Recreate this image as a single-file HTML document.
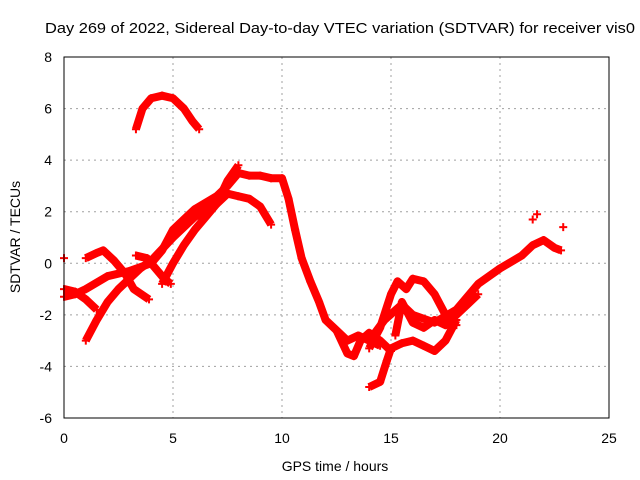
<!DOCTYPE html>
<html><head><meta charset="utf-8"><style>
body{margin:0;background:#fff}
svg{display:block;font-family:"Liberation Sans",sans-serif}
</style></head><body>
<svg id="chart" width="640" height="480" viewBox="0 0 640 480">
<rect width="640" height="480" fill="#fff"/>
<g id="grid"></g>
<g id="series"></g>
<rect x="64" y="57" width="545" height="361" fill="none" stroke="#000" stroke-width="1"/>
<g id="ticks" font-size="14" fill="#000"></g>
<text x="45" y="33" font-size="15" textLength="590" lengthAdjust="spacingAndGlyphs">Day 269 of 2022, Sidereal Day-to-day VTEC variation (SDTVAR) for receiver vis0</text>
<text x="335" y="471" font-size="14" text-anchor="middle">GPS time / hours</text>
<text x="20" y="237" font-size="14" text-anchor="middle" transform="rotate(-90 20 237)">SDTVAR / TECUs</text>
</svg>
<script>
const xTicks=[0,5,10,15,20,25];
const yTicks=[-6,-4,-2,0,2,4,6,8];
const trackArc=[[3.3,5.2],[3.6,6.0],[4.0,6.4],[4.5,6.5],[5.0,6.4],[5.5,6.0],[5.9,5.5],[6.2,5.2]];
const trackMain=[[0,-1.3],[0.5,-1.2],[1,-1.0],[2,-0.5],[3,-0.3],[4,0.0],[4.5,0.5],[5,1.3],[5.5,1.7],[6,2.1],[7,2.6],[7.5,3.0],[8,3.5],[8.5,3.4],[9,3.4],[9.5,3.3],[10,3.3],[10.3,2.5],[10.6,1.3],[10.9,0.2],[11.3,-0.7],[11.7,-1.5],[12,-2.2],[12.5,-2.6],[13,-3.0],[13.5,-2.8],[14,-3.0],[14.5,-3.2]];
const trackRise2=[[1,-3.0],[1.5,-2.2],[2,-1.5],[2.5,-1.0],[3,-0.6],[3.5,-0.2],[4,0.1],[5,1.0],[6,1.8],[7,2.3],[7.5,3.2],[8,3.8]];
const trackRise3=[[4.5,-0.8],[5,0],[5.5,0.7],[6,1.3],[6.5,1.8],[7,2.3],[7.5,2.7],[8,2.6],[8.5,2.5],[9,2.2],[9.5,1.5]];
const trackDrop=[[0,-1.0],[0.5,-1.1],[1,-1.4],[1.5,-1.8]];
const trackHump=[[1,0.2],[1.5,0.4],[1.8,0.5],[2.3,0.1],[2.8,-0.4],[3.2,-1.0],[3.9,-1.4]];
const trackMid=[[3.3,0.3],[3.8,0.2],[4.3,-0.3],[4.6,-0.6],[4.9,-0.8]];
const trackDip=[[12.5,-2.6],[13,-3.5],[13.3,-3.6],[13.6,-3.0],[14,-2.7],[14.5,-3.0],[15,-3.4]];
const trackLow=[[14,-4.8],[14.5,-4.6],[14.8,-3.8],[15,-3.3],[15.5,-3.1],[16,-3.0],[16.5,-3.2],[17,-3.4],[17.5,-3.0],[18,-2.2]];
const trackPeak=[[14,-3.3],[14.5,-2.5],[15,-1.2],[15.3,-0.7],[15.7,-1.0],[16,-0.6],[16.5,-0.7],[17,-1.2],[17.5,-2.0],[18,-2.4]];
const trackRight=[[14,-3.0],[14.7,-2.2],[15.5,-1.6],[16,-2.0],[17,-2.3],[18,-1.8],[19,-0.8],[20,-0.2],[21,0.3],[21.5,0.7],[22,0.9],[22.5,0.6],[22.8,0.5]];
const trackLate=[[15.2,-2.8],[15.5,-1.5],[16,-2.3],[16.5,-2.5],[17,-2.2],[17.5,-2.4],[18,-2.0],[18.5,-1.6],[19,-1.2]];
const trackDots=[[0,0.2],[21.5,1.7],[21.7,1.9],[22.9,1.4]];
const tracks=[trackArc,trackMain,trackRise2,trackRise3,trackDrop,trackHump,trackMid,trackDip,trackLow,trackPeak,trackRight,trackLate];
const NS='http://www.w3.org/2000/svg';
const X=t=>64+t*21.8, Y=v=>418-(v+6)*361/14;
const grid=document.getElementById('grid'),ticks=document.getElementById('ticks'),ser=document.getElementById('series');
xTicks.forEach(t=>{
 if(t>0&&t<25){const l=document.createElementNS(NS,'line');
 
 
 l.setAttribute('x1',X(t));l.setAttribute('x2',X(t));l.setAttribute('y1',57);l.setAttribute('y2',418);
 l.setAttribute('stroke','#a0a0a0');l.setAttribute('stroke-dasharray','2,4');grid.appendChild(l);}
 const s=document.createElementNS(NS,'text');
 
 
 s.setAttribute('x',X(t));s.setAttribute('y',443);s.setAttribute('text-anchor','middle');s.textContent=t;ticks.appendChild(s);
});
yTicks.forEach(v=>{
 if(v>-6&&v<8){const l=document.createElementNS(NS,'line');
 
 
 l.setAttribute('x1',64);l.setAttribute('x2',609);l.setAttribute('y1',Y(v));l.setAttribute('y2',Y(v));
 l.setAttribute('stroke','#a0a0a0');l.setAttribute('stroke-dasharray','2,4');grid.appendChild(l);}
 const s=document.createElementNS(NS,'text');
 
 
 s.setAttribute('x',52);s.setAttribute('y',Y(v)+5);s.setAttribute('text-anchor','end');s.textContent=v;ticks.appendChild(s);
});
function plus(t,v){
 const p=document.createElementNS(NS,'path');
 
 
 const x=X(t),y=Y(v);
 p.setAttribute('d',`M${x-4},${y}H${x+4}M${x},${y-4}V${y+4}`);
 p.setAttribute('stroke','#f00');p.setAttribute('stroke-width','2');ser.appendChild(p);
}
tracks.forEach(tr=>{
 const pl=document.createElementNS(NS,'polyline');
 
 
 pl.setAttribute('points',tr.map(d=>X(d[0])+','+Y(d[1])).join(' '));
 pl.setAttribute('fill','none');pl.setAttribute('stroke','#f00');pl.setAttribute('stroke-width','8');pl.setAttribute('stroke-linejoin','round');
 ser.appendChild(pl);
 tr.forEach(d=>plus(d[0],d[1]));
});
trackDots.forEach(d=>plus(d[0],d[1]));
</script>
</body></html>
